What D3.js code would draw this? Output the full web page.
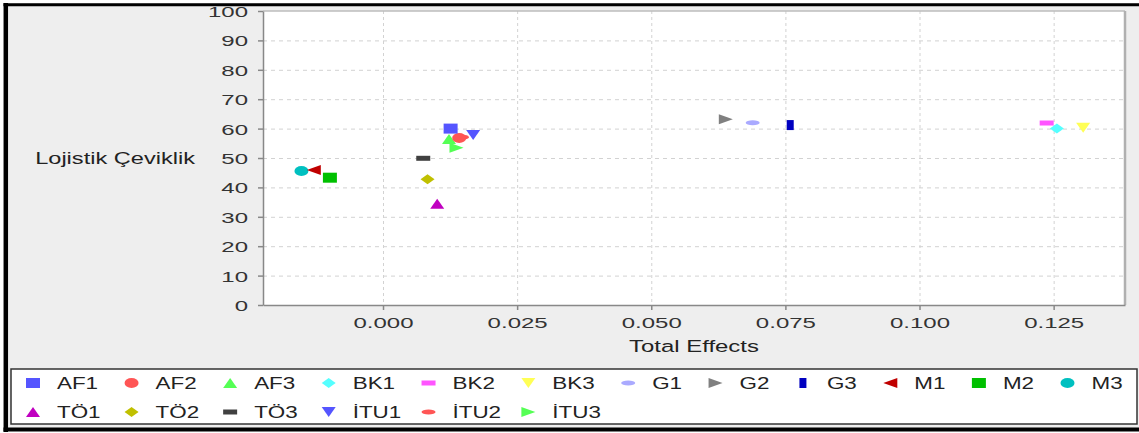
<!DOCTYPE html>
<html>
<head>
<meta charset="utf-8">
<script src="https://cdn.jsdelivr.net/npm/d3@7"></script>
<style>
  html, body { margin: 0; padding: 0; background: #ffffff; }
  svg { display: block; }
</style>
</head>
<body>
<svg id="chart" width="1139" height="433"></svg>
<script>
// ---------------- data ----------------
const categories = ["AF1","AF2","AF3","BK1","BK2","BK3","G1","G2","G3","M1","M2","M3","TÖ1","TÖ2","TÖ3","İTU1","İTU2","İTU3"];
const totalEffects = [0.0126, 0.0142, 0.0123, 0.1256, 0.1237, 0.1305, 0.0689, 0.0639, 0.0759, -0.0129, -0.0099, -0.0152, 0.0101, 0.0083, 0.0075, 0.0168, 0.0147, 0.0137];
const lojistikCeviklik = [60.0, 56.8, 56.5, 60.0, 61.9, 60.3, 62.0, 63.2, 61.2, 45.9, 43.3, 45.6, 34.4, 42.8, 49.9, 57.8, 57.1, 53.5];
const xTicks = [0.000, 0.025, 0.050, 0.075, 0.100, 0.125];
const yTicks = [0, 10, 20, 30, 40, 50, 60, 70, 80, 90, 100];
const xDomain = [-0.02237, 0.1383];
const yDomain = [0, 100];
const xTitle = "Total Effects";
const yTitle = "Lojistik Çeviklik";

// ---------------- styles ----------------
const palette = ["#5555ff","#ff5555","#55ff55","#55ffff","#ff55ff","#ffff55","#aaaaff","#808080","#0000c0","#c00000","#00c000","#00c0c0","#c000c0","#c0c000","#404040","#5555ff","#ff5555","#55ff55"];
const shapeCycle = ["square","circle","up","diamond","hrect","down","hellipse","right","vrect","left"];
const FONT = "'Liberation Sans', Arial, sans-serif";

const W = 1139, H = 433;
const P = { left: 263, right: 1125, top: 11, bottom: 305 };
const MW = 14, MH = 10; // marker box

const svg = d3.select("#chart");

function ellipse(a, b) {
  return `M${-a},0A${a},${b} 0 1,0 ${a},0A${a},${b} 0 1,0 ${-a},0Z`;
}
function shapePath(t, w, h) {
  const a = w / 2, b = h / 2;
  switch (t) {
    case "square": return `M${-a},${-b}H${a}V${b}H${-a}Z`;
    case "circle": return ellipse(a, b);
    case "up": return `M0,${-b}L${a},${b}L${-a},${b}Z`;
    case "diamond": return `M0,${-b}L${a},0L0,${b}L${-a},0Z`;
    case "hrect": return `M${-a},${-b/2}H${a}V${b/2}H${-a}Z`;
    case "down": return `M${-a},${-b}L${a},${-b}L0,${b}Z`;
    case "hellipse": return ellipse(a, b / 2);
    case "right": return `M${-a},${-b}L${a},0L${-a},${b}Z`;
    case "vrect": return `M${-a/2},${-b}H${a/2}V${b}H${-a/2}Z`;
    case "left": return `M${-a},0L${a},${-b}L${a},${b}Z`;
  }
}
function stext(g, x, y, str, o) {
  return g.append("text")
    .attr("transform", `translate(${x},${y}) scale(${o.sx},1)`)
    .attr("text-anchor", o.anchor || "start")
    .attr("font-family", FONT)
    .attr("font-size", o.size)
    .attr("fill", o.fill || "#333")
    .text(str);
}

// chart background & outer frame
svg.append("rect").attr("x", 4).attr("y", 3).attr("width", W).attr("height", 428).attr("fill", "#eeeeee");
svg.append("line").attr("x1", 3.5).attr("x2", W).attr("y1", 4.7).attr("y2", 4.7).attr("stroke", "#000").attr("stroke-width", 3);
svg.append("line").attr("x1", 5.8).attr("x2", 5.8).attr("y1", 3).attr("y2", 432).attr("stroke", "#000").attr("stroke-width", 4.5);
svg.append("line").attr("x1", 3.5).attr("x2", W).attr("y1", 429.5).attr("y2", 429.5).attr("stroke", "#000").attr("stroke-width", 4);

// scales
const x = d3.scaleLinear().domain(xDomain).range([P.left, P.right]);
const y = d3.scaleLinear().domain(yDomain).range([P.bottom, P.top]);

// plot area
svg.append("rect").attr("x", P.left).attr("y", P.top)
  .attr("width", P.right - P.left).attr("height", P.bottom - P.top).attr("fill", "#ffffff");

// gridlines
const grid = svg.append("g").attr("stroke", "#d2d2d2").attr("stroke-width", 1).attr("stroke-dasharray", "4,4");
grid.selectAll("line.h").data(yTicks.filter(v => v > 0 && v < 100)).join("line")
  .attr("x1", P.left).attr("x2", P.right).attr("y1", d => y(d) + 0.5).attr("y2", d => y(d) + 0.5);
grid.selectAll("line.v").data(xTicks).join("line")
  .attr("y1", P.top).attr("y2", P.bottom).attr("x1", d => x(d) + 0.5).attr("x2", d => x(d) + 0.5)
  .attr("stroke-dasharray", "3,3");

// plot outline (top/right)
svg.append("line").attr("x1", P.left).attr("x2", P.right).attr("y1", P.top).attr("y2", P.top).attr("stroke", "#bdbdbd").attr("stroke-width", 1.5);
svg.append("line").attr("x1", P.right).attr("x2", P.right).attr("y1", P.top).attr("y2", P.bottom).attr("stroke", "#b0b0b0").attr("stroke-width", 2.5);

// axes
const TSX = 1.6;
const yAxis = svg.append("g").attr("transform", `translate(${P.left},0)`)
  .call(d3.axisLeft(y).tickValues(yTicks).tickSize(5).tickSizeOuter(0).tickFormat(d3.format("d")));
yAxis.selectAll("path, line").attr("stroke", "#888").attr("stroke-width", 1.5);
yAxis.selectAll("text")
  .attr("font-family", FONT).attr("font-size", 15).attr("fill", "#333")
  .attr("x", -15 / TSX).attr("dy", "0.36em")
  .attr("transform", `scale(${TSX},1)`);

const xAxis = svg.append("g").attr("transform", `translate(0,${P.bottom})`)
  .call(d3.axisBottom(x).tickValues(xTicks).tickSize(5).tickSizeOuter(0).tickFormat(d3.format(".3f")));
xAxis.selectAll("path, line").attr("stroke", "#888").attr("stroke-width", 1.5);
xAxis.selectAll("text")
  .attr("font-family", FONT).attr("font-size", 15).attr("fill", "#333")
  .attr("y", 23).attr("dy", 0)
  .attr("transform", `scale(${TSX},1)`);

// axis titles
stext(svg, (P.left + P.right) / 2, 352, xTitle, { size: 16.5, sx: 1.45, anchor: "middle", fill: "#222" });
stext(svg, 195, 164, yTitle, { size: 16.5, sx: 1.43, anchor: "end", fill: "#222" });

// points (series 0 on top -> draw in reverse)
const pts = categories.map((c, i) => ({ c, i, xv: totalEffects[i], yv: lojistikCeviklik[i] }));
svg.append("g").selectAll("path").data(pts.slice().reverse()).join("path")
  .attr("transform", d => `translate(${x(d.xv)},${y(d.yv)})`)
  .attr("d", d => shapePath(shapeCycle[d.i % shapeCycle.length], MW, MH))
  .attr("fill", d => palette[d.i]);

// legend
const LG = { x: 11, y: 369, w: 1126, h: 55, cols: 12, rowY: [383, 412], startX: 26 };
svg.append("rect").attr("x", LG.x).attr("y", LG.y).attr("width", LG.w).attr("height", LG.h)
  .attr("fill", "#ffffff").attr("stroke", "#333").attr("stroke-width", 1.5);
const leg = svg.append("g");
const LSX = 1.4, LSIZE = 16;
const items = pts.map(d => {
  const row = Math.floor(d.i / LG.cols), col = d.i % LG.cols;
  const t = stext(leg, 0, 0, d.c, { size: LSIZE, sx: LSX, fill: "#222" });
  const tw = t.node().getComputedTextLength() * LSX;
  return { ...d, row, col, t, tw };
});
// column widths follow the first (full) row; the second row is aligned to it
const colW = d3.range(LG.cols).map(c => 31 + items.find(it => it.col === c && it.row === 0).tw + 26.5);
const colX = colW.reduce((acc, w, k) => { acc.push(acc[k] + w); return acc; }, [LG.startX]);
items.forEach(it => {
  const cx = colX[it.col];
  const cy = LG.rowY[it.row];
  leg.append("path")
    .attr("transform", `translate(${cx + 7},${cy})`)
    .attr("d", shapePath(shapeCycle[it.i % shapeCycle.length], MW, MH))
    .attr("fill", palette[it.i]);
  it.t.attr("transform", `translate(${cx + 31},${cy + 6}) scale(${LSX},1)`);
});
</script>
</body>
</html>
